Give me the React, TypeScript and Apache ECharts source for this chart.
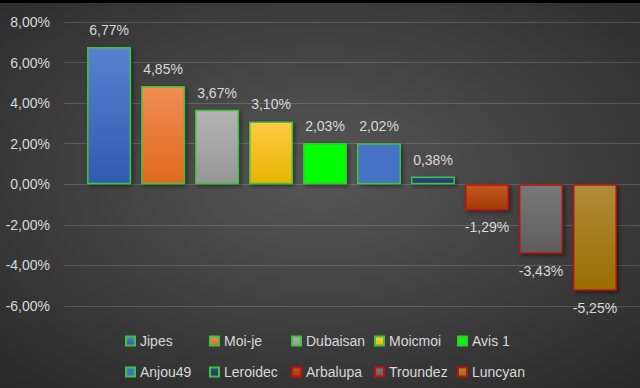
import React, { useEffect, useRef } from "react";
import * as echarts from "echarts";

const names = ["Jipes", "Moi-je", "Dubaisan", "Moicmoi", "Avis 1", "Anjou49", "Leroidec", "Arbalupa", "Troundez", "Luncyan"];
const values = [6.77, 4.85, 3.67, 3.1, 2.03, 2.02, 0.38, -1.29, -3.43, -5.25];
const topColors = ["#5b80d0", "#f18d55", "#b4b4b4", "#ffca45", "#00ff00", "#4472c4", "#2b4c8c", "#c4591f", "#787878", "#b08b3a"];
const bottomColors = ["#2e5bb0", "#e0691c", "#969696", "#e6b400", "#00ff00", "#4472c4", "#1f3864", "#a23a04", "#5e5e5e", "#9a6e00"];
const borderColors = ["#3ec43e", "#3ec43e", "#3ec43e", "#3ec43e", "#3ec43e", "#3ec43e", "#3ec43e", "#c01010", "#c01010", "#c01010"];
const yMin = -6;
const yMax = 8;
const yStep = 2;

const fmt = (v: number) => v.toFixed(2).replace(".", ",") + "%";

const legendCols = [125, 209, 291, 374, 457];
const legendRows = [334, 365];

export default function App() {
  const ref = useRef<HTMLDivElement>(null);
  useEffect(() => {
    document.body.style.margin = "0";
    const chart = echarts.init(ref.current!, null, { renderer: "svg" });
    const font = "'Liberation Sans', Arial, sans-serif";
    const series = names.map((n, i) => ({
      name: n,
      type: "bar",
      data: [values[i]],
      barWidth: 44,
      barGap: "22.7%",
      itemStyle: {
        color: new echarts.graphic.LinearGradient(0, 0, 0, 1, [
          { offset: 0, color: topColors[i] },
          { offset: 1, color: bottomColors[i] },
        ]),
        borderColor: borderColors[i],
        borderWidth: 1.5,
        shadowBlur: 4,
        shadowColor: "rgba(0,0,0,0.45)",
        shadowOffsetX: 2,
        shadowOffsetY: 2,
      },
      label: {
        show: true,
        position: values[i] >= 0 ? "top" : "bottom",
        distance: 10,
        formatter: (p: any) => fmt(p.value),
        color: "#d9d9d9",
        fontSize: 14,
        fontFamily: font,
      },
    }));
    const legends = names.map((n, i) => ({
      data: [n],
      left: legendCols[i % 5],
      top: legendRows[Math.floor(i / 5)],
      padding: 0,
      itemWidth: 9,
      itemHeight: 9,
      icon: "rect",
      selectedMode: false,
      itemStyle: { shadowBlur: 0, shadowOffsetX: 0, shadowOffsetY: 0 },
      textStyle: { color: "#d9d9d9", fontSize: 14, fontFamily: font },
    }));
    chart.setOption({
      animation: false,
      backgroundColor: new echarts.graphic.RadialGradient(0.5, 0.45, 0.75, [
        { offset: 0, color: "#575757" },
        { offset: 1, color: "#282828" },
      ]),
      graphic: [
        { type: "rect", left: 0, top: 0, shape: { width: 640, height: 3 }, style: { fill: "#000" } },
      ],
      grid: { left: 64, right: 0, top: 22, bottom: 82 },
      legend: legends,
      xAxis: {
        type: "category",
        data: [""],
        axisLine: { show: false },
        axisTick: { show: false },
        axisLabel: { show: false },
      },
      yAxis: {
        type: "value",
        min: yMin,
        max: yMax,
        interval: yStep,
        axisLine: { show: false },
        axisTick: { show: false },
        axisLabel: {
          formatter: (v: number) => fmt(v),
          color: "#d9d9d9",
          fontSize: 14,
          fontFamily: font,
          margin: 14,
        },
        splitLine: { lineStyle: { color: "rgba(255,255,255,0.16)", width: 1 } },
      },
      series,
    });
    return () => chart.dispose();
  }, []);
  return <div ref={ref} style={{ width: 640, height: 388 }} />;
}
